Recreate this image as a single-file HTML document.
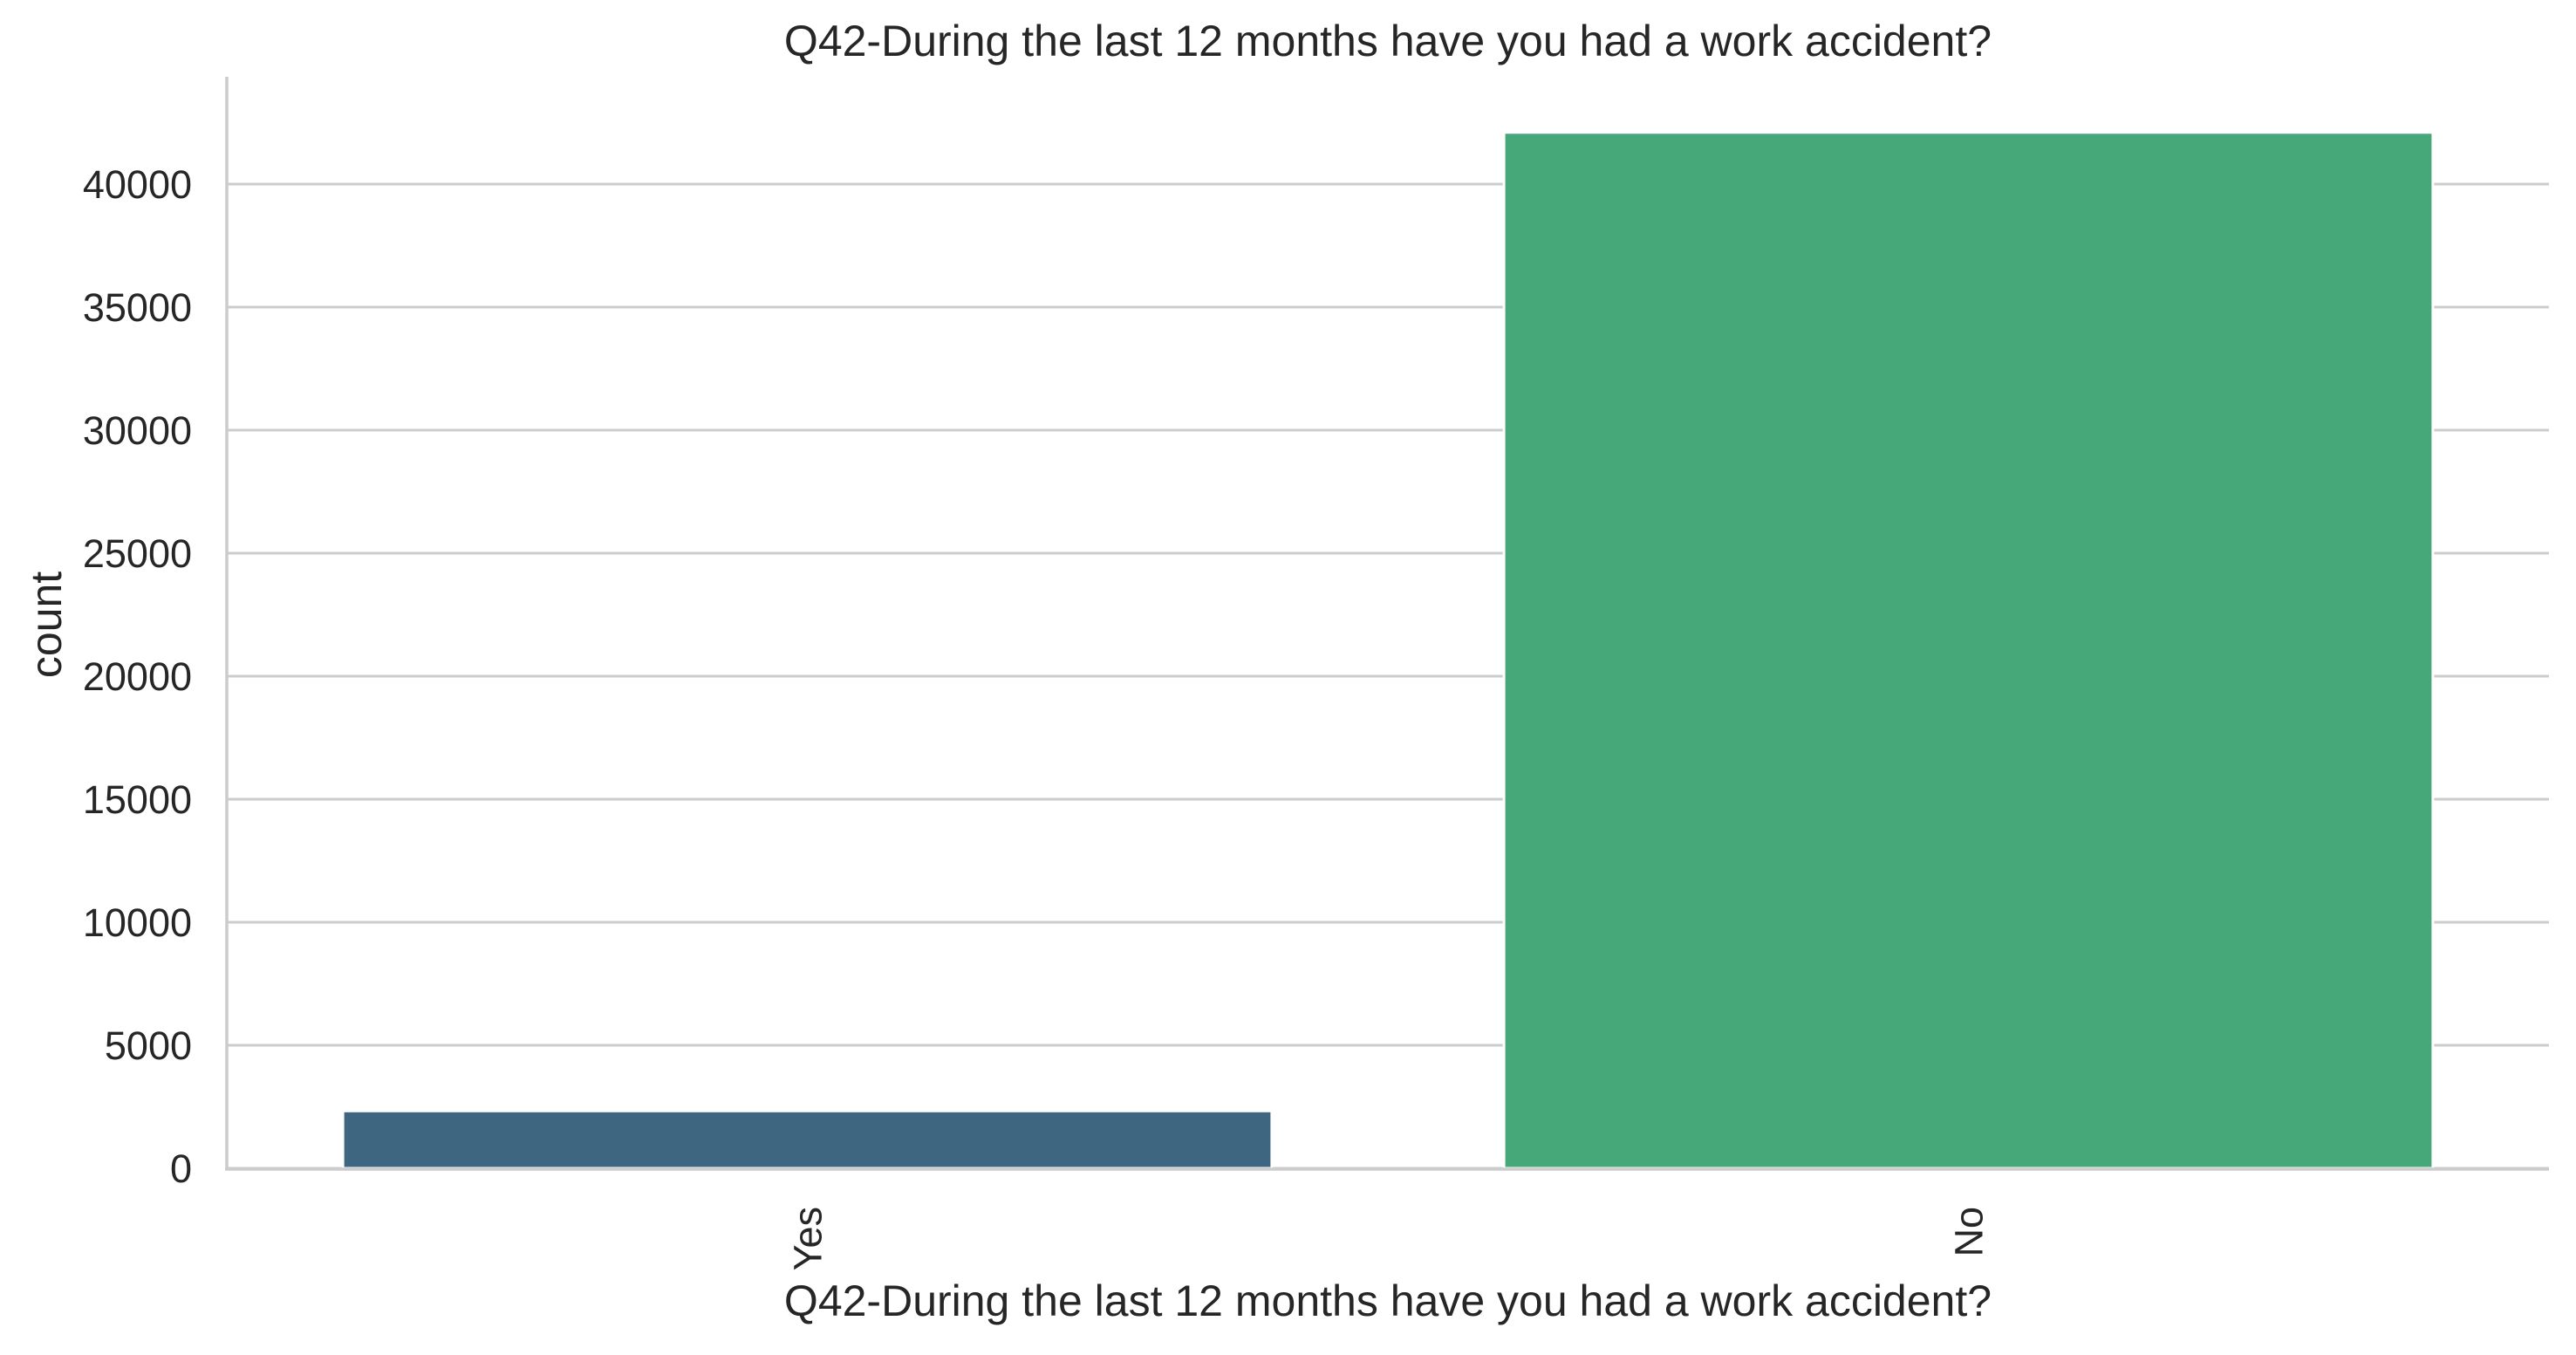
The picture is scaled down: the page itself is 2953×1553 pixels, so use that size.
<!DOCTYPE html>
<html><head><meta charset="utf-8"><style>
html,body{margin:0;padding:0;background:#fff;}
svg text{font-family:"Liberation Sans",Arial,sans-serif;fill:#262626;}
</style></head><body>
<svg id="chart" width="2953" height="1548" xmlns="http://www.w3.org/2000/svg">
<text x="1591" y="64" font-size="50" text-anchor="middle">Q42-During the last 12 months have you had a work accident?</text>
<text x="1591" y="1508" font-size="50" text-anchor="middle">Q42-During the last 12 months have you had a work accident?</text>
<text transform="translate(70,716) rotate(-90)" font-size="50" text-anchor="middle">count</text>
<g id="grid"></g><g id="bars"></g><g id="ticks"></g>
<line x1="260" y1="88" x2="260" y2="1341" stroke="#cccccc" stroke-width="3.5"/>
<line x1="258" y1="1340" x2="2922" y2="1340" stroke="#cccccc" stroke-width="3.5"/>
</svg>
<script>
const categories = ["Yes", "No"];
const counts = [2330, 42100];
const yTicks = [0, 5000, 10000, 15000, 20000, 25000, 30000, 35000, 40000];
const colors = ["#3e6681", "#46a878"];

const NS = "http://www.w3.org/2000/svg";
const x0 = 260, x1 = 2922, yZero = 1339, pxPerUnit = 141 / 5000;
const band = (x1 - x0) / categories.length;
function xc(i){ return x0 + band * (i + 0.5); }
function y(v){ return yZero - v * pxPerUnit; }

const grid = document.getElementById('grid');
const ticks = document.getElementById('ticks');
yTicks.forEach(t => {
  const l = document.createElementNS(NS, 'line');
  
  
  l.setAttribute('x1', x0); l.setAttribute('x2', x1);
  l.setAttribute('y1', y(t)); l.setAttribute('y2', y(t));
  l.setAttribute('stroke', '#cccccc'); l.setAttribute('stroke-width', '3');
  grid.appendChild(l);
  const tx = document.createElementNS(NS, 'text');
  
  
  tx.setAttribute('x', 220); tx.setAttribute('y', y(t) + 16);
  tx.setAttribute('font-size', '45'); tx.setAttribute('text-anchor', 'end');
  tx.textContent = t;
  ticks.appendChild(tx);
});
const bars = document.getElementById('bars');
categories.forEach((c, i) => {
  const w = band * 0.8;
  const r = document.createElementNS(NS, 'rect');
  
  
  r.setAttribute('x', xc(i) - w / 2); r.setAttribute('width', w);
  r.setAttribute('y', y(counts[i])); r.setAttribute('height', yZero - y(counts[i]));
  r.setAttribute('fill', colors[i]);
  r.setAttribute('stroke', '#ffffff'); r.setAttribute('stroke-width', '3');
  bars.appendChild(r);
  const tx = document.createElementNS(NS, 'text');
  
  
  tx.setAttribute('transform', 'translate(' + (xc(i) + 16) + ',1383) rotate(-90)');
  tx.setAttribute('font-size', '45'); tx.setAttribute('text-anchor', 'end');
  tx.textContent = c;
  ticks.appendChild(tx);
});
</script>
</body></html>
